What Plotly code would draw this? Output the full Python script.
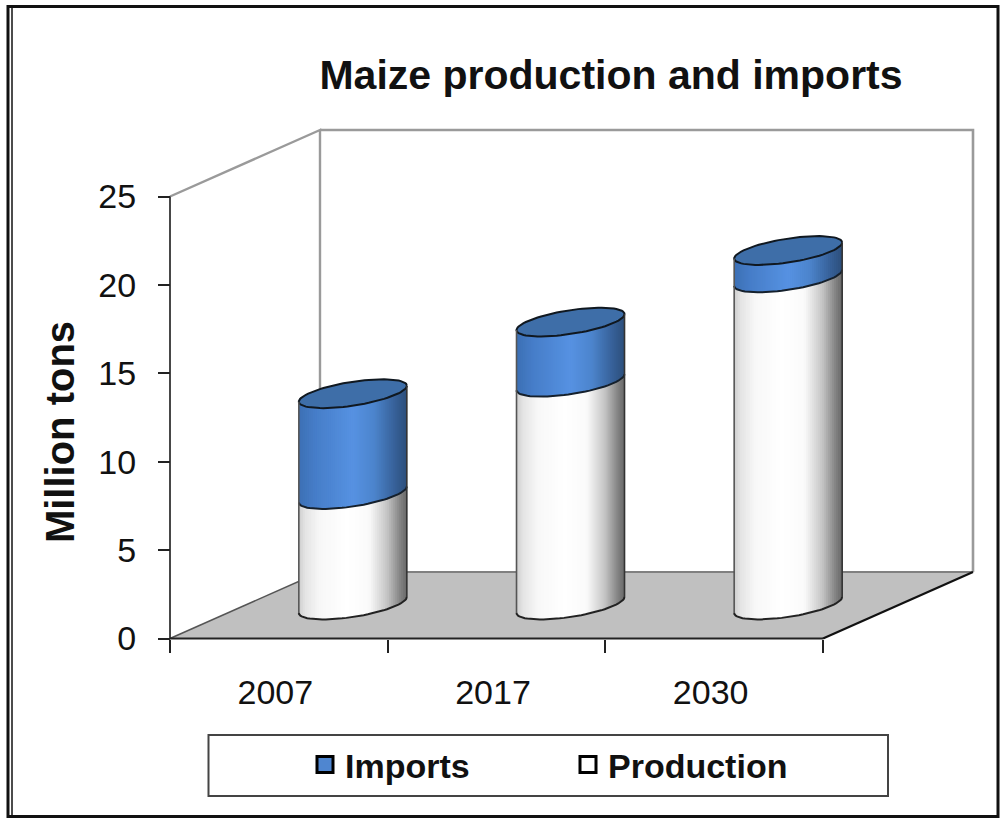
import numpy as np
import plotly.graph_objects as go

# --- data ---
years = ["2007", "2017", "2030"]
production = [6.25, 12.6, 18.5]
imports = [5.7, 3.4, 1.55]
y_ticks = [0, 5, 10, 15, 20, 25]
title_text = "Maize production and imports"
y_title = "Million tons"

# --- page geometry and oblique projection ---
W, H = 1000, 818
X0_PX, X3_PX = 170.0, 823.0
Y0_PX, Y25_PX = 638.5, 196.5
PX_X = (X3_PX - X0_PX) / 3.0
PX_Y = (Y0_PX - Y25_PX) / 25.0
DEPTH_X = 150.0 / PX_X
DEPTH_Y = 66.5 / PX_Y
N = len(years)
BASE_X = 0.34
BASE_Y = 33.5 / PX_Y
RAD_X = 54.0 / PX_X
RAD_Y = 12.0 / PX_Y
SHEAR = 8.0 / PX_Y
AXIS_TOP_PX = 46.0
LABEL_NUDGE = 0.016

WHITE_STOPS = [(0, (205, 205, 205)), (.06, (228, 228, 228)), (.2, (248, 248, 248)), (.45, (255, 255, 255)),
               (.65, (250, 250, 250)), (.82, (195, 195, 195)), (.95, (125, 125, 125)), (1, (105, 105, 105))]
BLUE_STOPS = [(0, (60, 112, 180)), (.15, (70, 125, 200)), (.5, (86, 146, 226)), (.7, (76, 132, 204)),
              (.88, (56, 98, 155)), (1, (44, 78, 122))]
TOP_BLUE = "rgb(62,110,168)"
STRIPS = 54

fig = go.Figure()


def poly(xs, ys, fill, line=None, width=0):
    fig.add_trace(go.Scatter(x=xs, y=ys, mode="lines", fill="toself", fillcolor=fill,
                             line=dict(color=line or fill, width=width), showlegend=False, hoverinfo="skip"))


def path(xs, ys, color, width, dash=None):
    fig.add_trace(go.Scatter(x=xs, y=ys, mode="lines", line=dict(color=color, width=width, dash=dash),
                             showlegend=False, hoverinfo="skip"))


def shade(u, stops):
    pos = [s[0] for s in stops]
    rgb = [int(round(np.interp(u, pos, [s[1][k] for s in stops]))) for k in range(3)]
    return f"rgb({rgb[0]},{rgb[1]},{rgb[2]})"


def rim(cx, level, t):
    x = cx + RAD_X * np.cos(t)
    y = BASE_Y + level + SHEAR * np.cos(t) - RAD_Y * np.sin(t)
    return x, y


def barrel(cx, low, high, stops):
    u = np.linspace(0, 1, STRIPS + 1)
    t = np.arccos(2 * u - 1)
    for k in range(STRIPS):
        seg = np.linspace(t[k], t[min(k + 2, STRIPS)], 5)
        xb, yb = rim(cx, low, seg)
        xt, yt = rim(cx, high, seg[::-1])
        poly(list(xb) + list(xt), list(yb) + list(yt), shade((u[k] + u[k + 1]) / 2, stops))


# floor
floor_x = [0, N, N + DEPTH_X, DEPTH_X, 0]
floor_y = [0, 0, DEPTH_Y, DEPTH_Y, 0]
poly(floor_x, floor_y, "#c0c0c0")

# walls
wall = "#9a9a9a"
path([0, DEPTH_X, DEPTH_X], [25, 25 + DEPTH_Y, DEPTH_Y], wall, 2.4)
path([DEPTH_X, N + DEPTH_X, N + DEPTH_X], [25 + DEPTH_Y, 25 + DEPTH_Y, DEPTH_Y], wall, 2.6)
path([DEPTH_X, N + DEPTH_X], [DEPTH_Y, DEPTH_Y], "#808080", 2.2)
path([0, DEPTH_X], [0, DEPTH_Y], "#555555", 1.5)
path([N, N + DEPTH_X], [0, DEPTH_Y], "#111111", 2.2)
path([0, 0], [0, 25], "#333333", 1.8)
path([0, N], [0, 0], "#222222", 2.2)

# cylinders
for i in range(N):
    cx = i + 0.5 + BASE_X
    p = production[i]
    total = p + imports[i]
    barrel(cx, 0, p, WHITE_STOPS)
    barrel(cx, p, total, BLUE_STOPS)
    front = np.linspace(0, np.pi, 40)
    full = np.linspace(0, 2 * np.pi, 80)
    xt, yt = rim(cx, total, full)
    poly(list(xt), list(yt), TOP_BLUE, "#101820", 2)
    xa, ya = rim(cx, 0, front)
    path(list(xa), list(ya), "#222222", 2)
    xa, ya = rim(cx, p, front)
    path(list(xa), list(ya), "#15202c", 2)
    xl, yl = rim(cx, 0, np.array([np.pi]))
    xl2, yl2 = rim(cx, total, np.array([np.pi]))
    path([xl[0], xl2[0]], [yl[0], yl2[0]], "#555555", 1.6)
    xr, yr = rim(cx, 0, np.array([0.0]))
    xr2, yr2 = rim(cx, total, np.array([0.0]))
    path([xr[0], xr2[0]], [yr[0], yr2[0]], "#333333", 1.6)

# legend entries
for name, color in (("Imports", "#4f86d0"), ("Production", "#ffffff")):
    fig.add_trace(go.Scatter(x=[None], y=[None], mode="markers", name=name,
                             marker=dict(symbol="square", size=16, color=color,
                                         line=dict(color="#000000", width=3))))

FONT = "Liberation Sans, Arial, sans-serif"
BLACK = "#111111"


def frame(x0, y0, x1, y1, color, width):
    return dict(type="rect", xref="paper", yref="paper", x0=x0 / W, x1=x1 / W, y0=1 - y0 / H, y1=1 - y1 / H,
                line=dict(color=color, width=width), fillcolor="rgba(0,0,0,0)", layer="above")


fig.update_layout(
    width=W, height=H, margin=dict(l=0, r=0, t=0, b=0), autosize=False,
    paper_bgcolor="white", plot_bgcolor="white",
    title=dict(text=f"<b>{title_text}</b>", x=611 / W, y=1 - 75 / H, xanchor="center", yanchor="middle",
               font=dict(family=FONT, size=41, color=BLACK)),
    xaxis=dict(range=[-X0_PX / PX_X, (W - X0_PX) / PX_X], domain=[0, 1], anchor="free",
               position=1 - Y0_PX / H, showgrid=False, zeroline=False, showline=False,
               tickmode="array", tickvals=[i + 0.5 - LABEL_NUDGE for i in range(N)], ticktext=years,
               ticks="", ticklen=0, ticklabelstandoff=30, tickfont=dict(family=FONT, size=34, color=BLACK),
               minor=dict(tickmode="array", tickvals=list(range(N + 1)), ticks="outside",
                          ticklen=13, tickwidth=1.5, tickcolor="#222222", showgrid=False)),
    yaxis=dict(range=[-(H - Y0_PX) / PX_Y, (Y0_PX - AXIS_TOP_PX) / PX_Y], domain=[0, 1 - AXIS_TOP_PX / H],
               anchor="free", position=X0_PX / W, showgrid=False, zeroline=False, showline=False,
               tickmode="array", tickvals=y_ticks, ticks="outside", ticklen=12, tickwidth=1.5,
               tickcolor="#222222", ticklabelstandoff=15, tickfont=dict(family=FONT, size=34, color=BLACK),
               title=dict(text=f"<b>{y_title}</b>", standoff=10, font=dict(family=FONT, size=40, color=BLACK))),
    legend=dict(orientation="h", x=305 / W, y=1 - 765 / H, xanchor="left", yanchor="middle",
                bgcolor="rgba(0,0,0,0)", borderwidth=0, entrywidthmode="pixels", entrywidth=218,
                font=dict(family=FONT, size=34, color=BLACK, weight="bold")),
    shapes=[frame(208.5, 735, 888, 796, "#444444", 2),
            frame(8, 6.5, 998, 816.5, "#111111", 3),
            dict(type="line", xref="paper", yref="paper", x0=12 / W, x1=12 / W, y0=1 - 6 / H, y1=1 - 816 / H,
                 line=dict(color="#111111", width=1.5))],
    hovermode=False,
)
fig.write_html("out.html", config={"displayModeBar": False},
               post_script="document.body.style.margin='0';document.body.style.overflow='hidden';")
